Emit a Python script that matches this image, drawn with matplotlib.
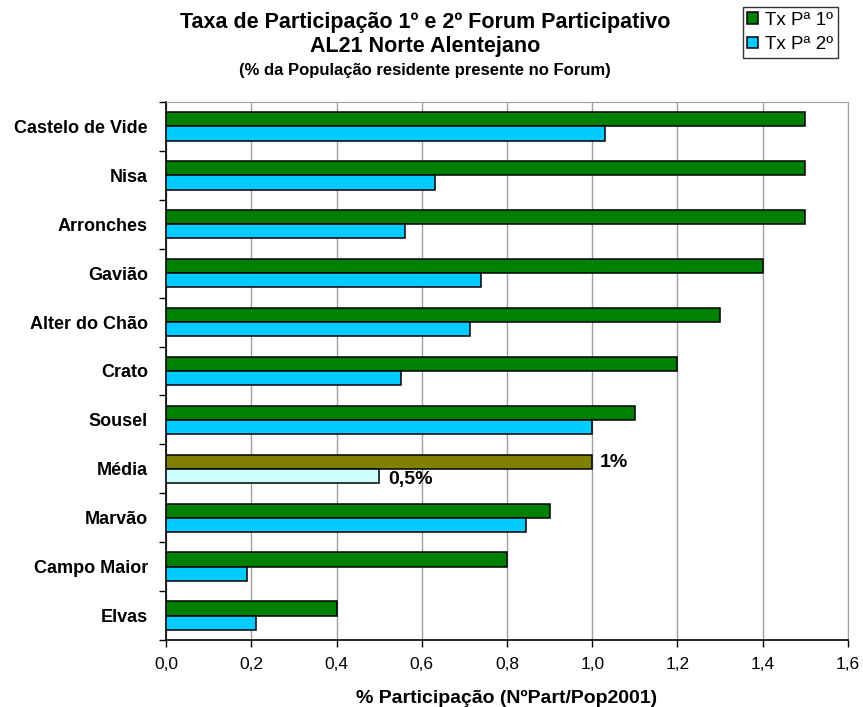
import matplotlib
matplotlib.use("Agg")
import matplotlib.pyplot as plt
import numpy as np

plt.rcParams['font.family'] = ['Liberation Sans', 'DejaVu Sans']

categories = ["Castelo de Vide", "Nisa", "Arronches", "Gavião", "Alter do Chão",
              "Crato", "Sousel", "Média", "Marvão", "Campo Maior", "Elvas"]
tx1 = [1.50, 1.50, 1.50, 1.40, 1.30, 1.20, 1.10, 1.00, 0.90, 0.80, 0.40]
tx2 = [1.03, 0.63, 0.56, 0.74, 0.713, 0.552, 1.00, 0.50, 0.845, 0.19, 0.21]
xticks = [0.0, 0.2, 0.4, 0.6, 0.8, 1.0, 1.2, 1.4, 1.6]
xticklabels = ["0,0", "0,2", "0,4", "0,6", "0,8", "1,0", "1,2", "1,4", "1,6"]
media_labels = ["1%", "0,5%"]

green = "#008000"
cyan = "#00CCFF"
olive = "#808000"
lightcyan = "#CCFFFF"

fig = plt.figure(figsize=(8.63, 7.07), dpi=100)
ax = fig.add_axes([0.1924, 0.0948, 0.7902, 0.7609])

n = len(categories)
y = np.arange(n)
h = 0.29
c1 = [olive if c == "Média" else green for c in categories]
c2 = [lightcyan if c == "Média" else cyan for c in categories]
ax.barh(y - h / 2, tx1, height=h, color=c1, edgecolor="black", linewidth=1.1, zorder=3, label="Tx Pª 1º")
ax.barh(y + h / 2, tx2, height=h, color=c2, edgecolor="black", linewidth=1.1, zorder=3, label="Tx Pª 2º")

mi = categories.index("Média")
ax.text(tx1[mi] + 0.018, mi - h / 2 + 0.02, media_labels[0], fontsize=14, fontweight="bold", va="center", ha="left")
ax.text(tx2[mi] + 0.022, mi + h / 2 + 0.08, media_labels[1], fontsize=14, fontweight="bold", va="center", ha="left")

ax.set_ylim(n - 0.5, -0.5)
ax.set_xlim(0, 1.6)
ax.set_yticks(y)
ax.set_yticklabels(categories, fontsize=13, fontweight="bold")
ax.set_yticks(np.arange(-0.5, n, 1.0), minor=True)
ax.tick_params(axis="y", which="major", length=0, pad=13)
ax.tick_params(axis="y", which="minor", length=5, width=1, direction="out")
ax.set_xticks(xticks)
ax.set_xticklabels(xticklabels, fontsize=12.5)
ax.tick_params(axis="x", length=5, width=1, direction="out", pad=7)
ax.grid(axis="x", color="#a0a0a0", linewidth=1, zorder=0)

for s in ["top", "right"]:
    ax.spines[s].set_color("#a0a0a0")
for s in ["left", "bottom"]:
    ax.spines[s].set_color("black")
    ax.spines[s].set_linewidth(1.2)

fig.text(0.5875, 0.0057, "% Participação (NºPart/Pop2001)", ha="center", va="baseline",
         fontsize=14, fontweight="bold")

fig.text(0.4925, 1 - 28 / 707, "Taxa de Participação 1º e 2º Forum Participativo", ha="center", va="baseline",
         fontsize=15.5, fontweight="bold")
fig.text(0.4925, 1 - 52 / 707, "AL21 Norte Alentejano", ha="center", va="baseline", fontsize=15.5, fontweight="bold")
fig.text(0.4925, 1 - 75 / 707, "(% da População residente presente no Forum)", ha="center", va="baseline",
         fontsize=12, fontweight="bold")

leg = fig.legend(loc="upper right", bbox_to_anchor=(0.971, 0.990), fontsize=13.5, frameon=True,
                 fancybox=False, edgecolor="black", handlelength=0.55, handleheight=0.55,
                 handletextpad=0.4, borderpad=0.25, labelspacing=0.4, borderaxespad=0)
leg.get_frame().set_linewidth(1.0)

fig.savefig("out.png", dpi=100)
